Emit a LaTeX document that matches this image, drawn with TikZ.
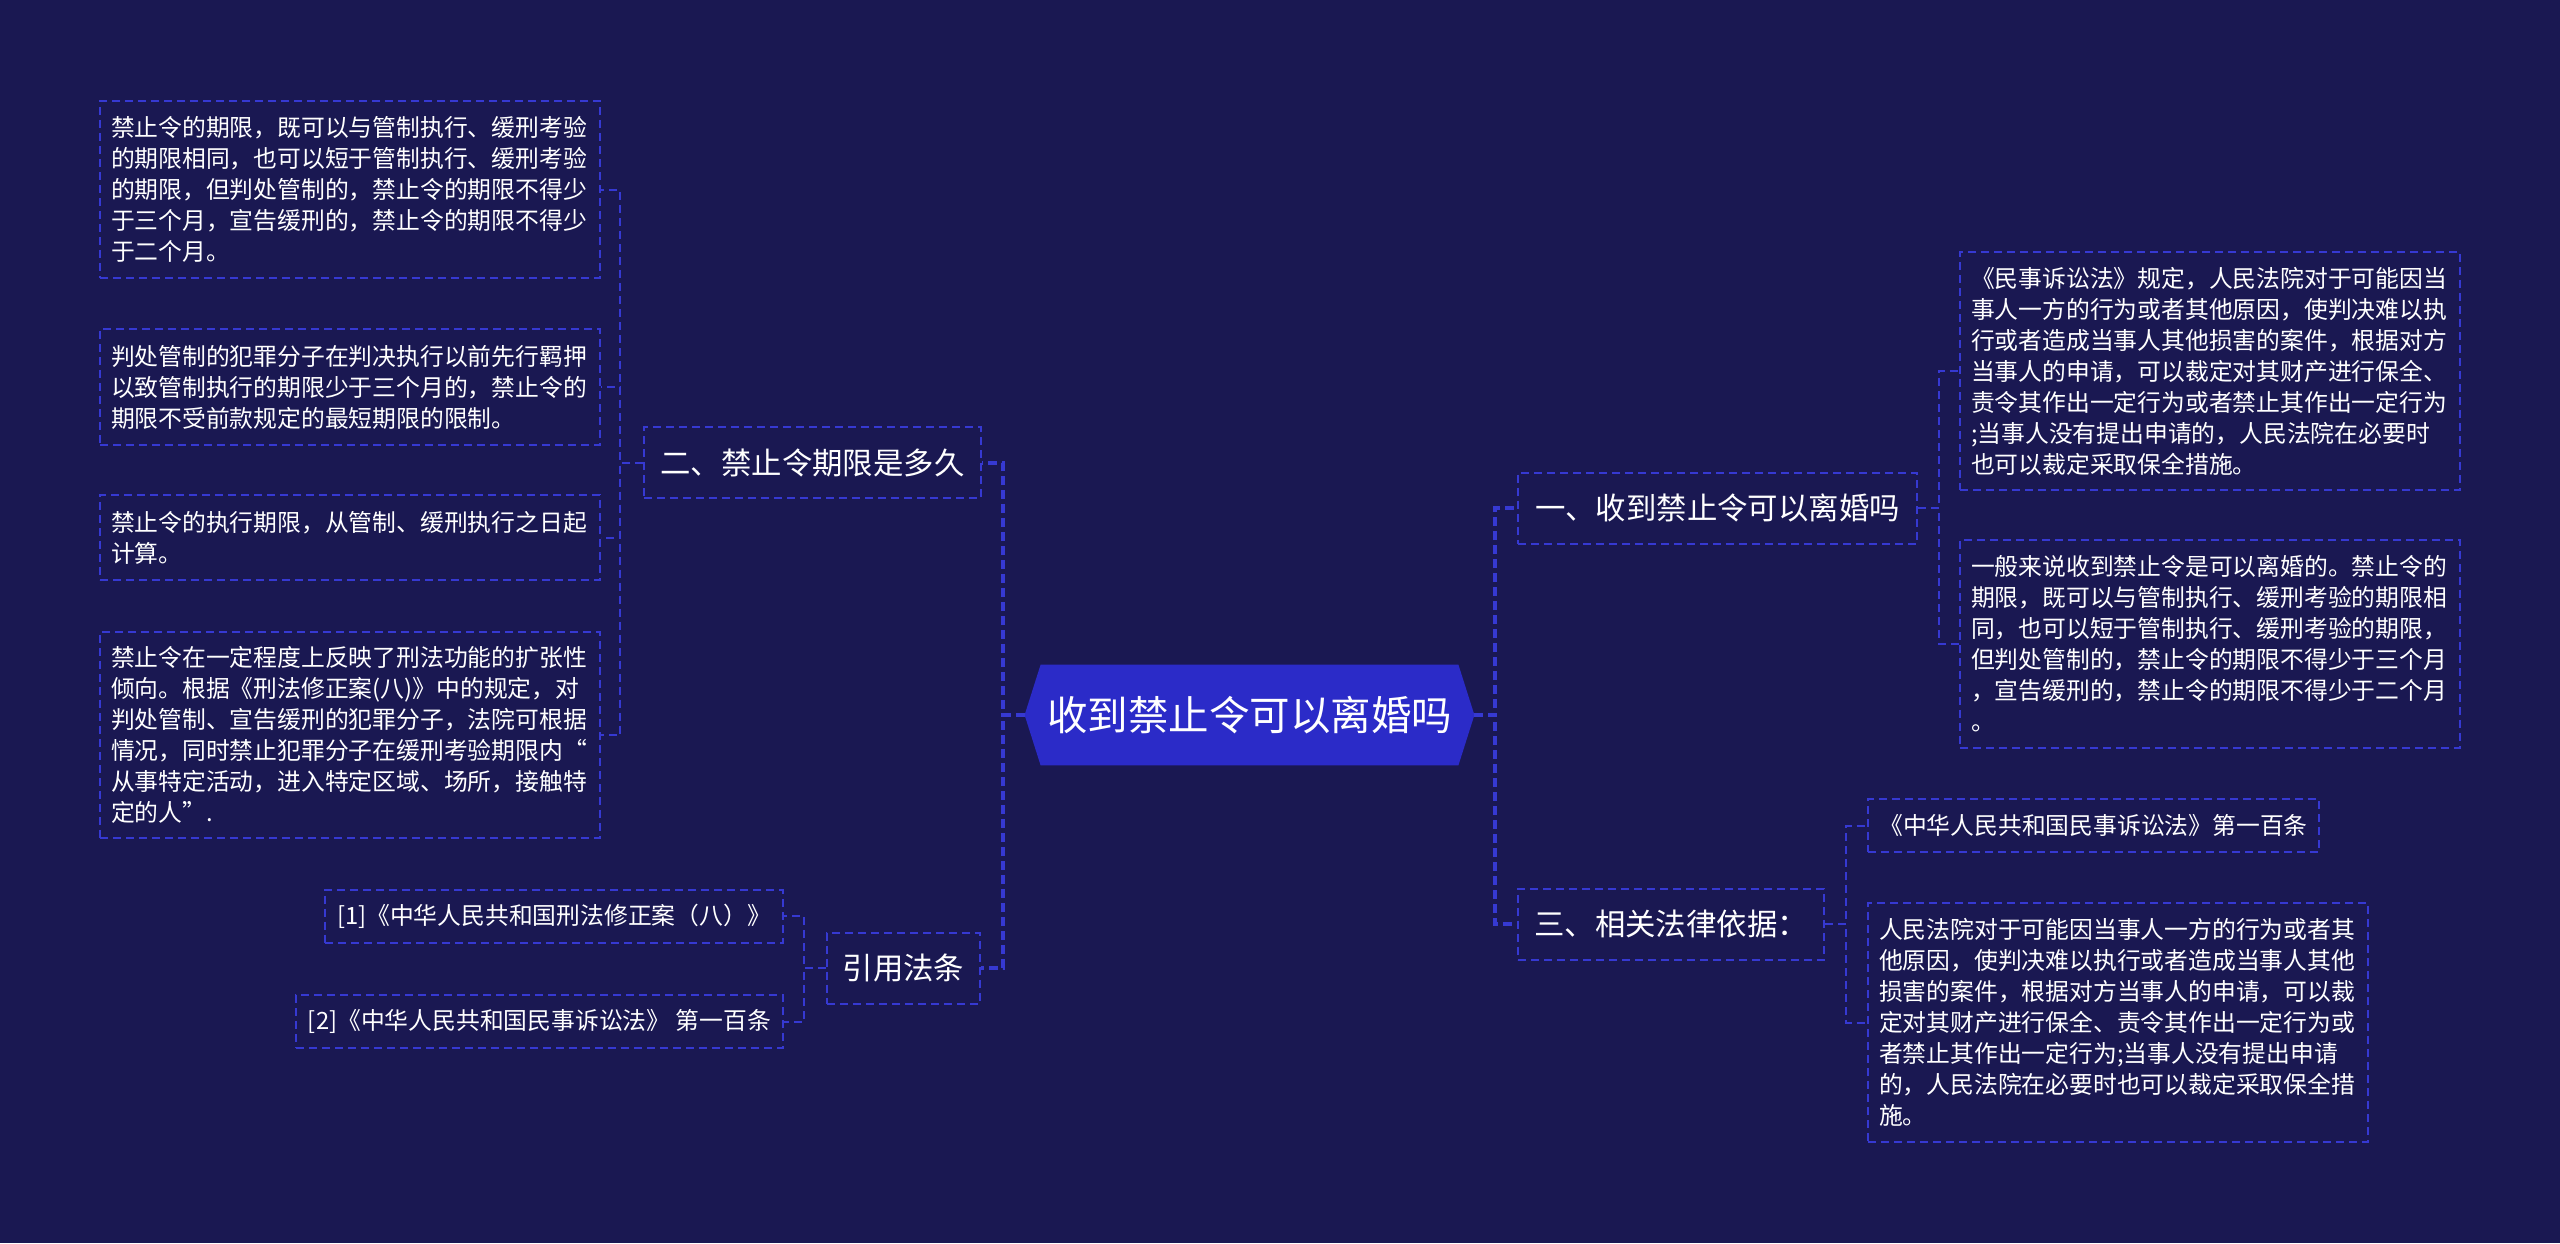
\documentclass[tikz,border=0pt]{standalone}
\usepackage{fontspec}
\newfontfamily\cjk{Noto Sans CJK SC}
\definecolor{bgc}{HTML}{1A1852}
\definecolor{hexc}{HTML}{2B2BC8}
\definecolor{linec}{HTML}{3639D2}
\pgfdeclarelayer{bglayer}
\pgfsetlayers{bglayer,main}
\tikzset{
  conn/.style={draw=linec, line width=1pt, dash pattern=on 4pt off 2.5pt},
  mainconn/.style={conn, line width=2pt, dash pattern=on 4.5pt off 2.5pt},
  box/.style={draw=linec, line width=1pt, dash pattern=on 4pt off 2.5pt, text=white, inner sep=0pt},
  leaf/.style={box, font=\cjk\fontsize{11.9pt}{15.5pt}\selectfont, text width=239pt, inner xsep=5.5pt, align=left},
  leafone/.style={box, font=\cjk\fontsize{11.9pt}{15.5pt}\selectfont, minimum height=26.5pt},
  topic/.style={box, font=\cjk\fontsize{15.2pt}{18pt}\selectfont, minimum height=35.5pt},
  centre/.style={font=\cjk\fontsize{20.25pt}{24pt}\selectfont, text=white, minimum width=224.5pt, minimum height=50pt, inner sep=0pt},
}
\begin{document}
\begin{tikzpicture}[x=0.5pt,y=-0.5pt]
\useasboundingbox (0,0) rectangle (2560,1243);
\begin{pgfonlayer}{bglayer}
\fill[bgc] (0,0) rectangle (2560,1243);
\end{pgfonlayer}

% centre
\node[centre] (c) at (1249.5,715) {收到禁止令可以离婚吗};
\begin{pgfonlayer}{bglayer}
\fill[hexc] (c.west) -- ([xshift=8pt]c.north west) -- ([xshift=-8pt]c.north east) -- (c.east)
  -- ([xshift=-8pt]c.south east) -- ([xshift=8pt]c.south west) -- cycle;
\end{pgfonlayer}

% level 1
\node[topic, minimum width=168.5pt, anchor=east] (n2) at (982,462.5) {二、禁止令期限是多久};
\node[topic, minimum width=76.5pt, anchor=east] (ny) at (981,968) {引用法条};
\node[topic, minimum width=199.5pt, anchor=west] (n1) at (1517,508) {一、收到禁止令可以离婚吗};
\node[topic, minimum width=153pt, anchor=west] (n3) at (1517,924) {三、相关法律依据：};

% left leaves
\node[leaf, minimum height=88.5pt, anchor=east] (l1) at (601,189.5) {禁止令的期限，既可以与管制执行、缓刑考验\\的期限相同，也可以短于管制执行、缓刑考验\\的期限，但判处管制的，禁止令的期限不得少\\于三个月，宣告缓刑的，禁止令的期限不得少\\于二个月。};
\node[leaf, minimum height=58pt, anchor=east] (l2) at (601,387) {判处管制的犯罪分子在判决执行以前先行羁押\\以致管制执行的期限少于三个月的，禁止令的\\期限不受前款规定的最短期限的限制。};
\node[leaf, minimum height=42.5pt, anchor=east] (l3) at (601,537.5) {禁止令的执行期限，从管制、缓刑执行之日起\\计算。};
\node[leaf, minimum height=103pt, anchor=east] (l4) at (601,735) {禁止令在一定程度上反映了刑法功能的扩张性\\倾向。根据《刑法修正案(八)》中的规定，对\\判处管制、宣告缓刑的犯罪分子，法院可根据\\情况，同时禁止犯罪分子在缓刑考验期限内“\\从事特定活动，进入特定区域、场所，接触特\\定的人”.};

\node[leafone, minimum width=229pt, anchor=east] (c1) at (784,916) {[1]《中华人民共和国刑法修正案（八）》};
\node[leafone, minimum width=243.5pt, anchor=east] (c2) at (784,1021.5) {[2]《中华人民共和国民事诉讼法》 第一百条};

% right leaves
\node[leaf, minimum height=119pt, anchor=west] (r1) at (1959,371) {《民事诉讼法》规定，人民法院对于可能因当\\事人一方的行为或者其他原因，使判决难以执\\行或者造成当事人其他损害的案件，根据对方\\当事人的申请，可以裁定对其财产进行保全、\\责令其作出一定行为或者禁止其作出一定行为\\;当事人没有提出申请的，人民法院在必要时\\也可以裁定采取保全措施。};
\node[leaf, minimum height=104pt, anchor=west] (r2) at (1959,644) {一般来说收到禁止令是可以离婚的。禁止令的\\期限，既可以与管制执行、缓刑考验的期限相\\同，也可以短于管制执行、缓刑考验的期限，\\但判处管制的，禁止令的期限不得少于三个月\\，宣告缓刑的，禁止令的期限不得少于二个月\\。};
\node[leafone, minimum width=225.5pt, anchor=west] (r3a) at (1867,825.5) {《中华人民共和国民事诉讼法》第一百条};
\node[leaf, minimum height=119.5pt, anchor=west] (r3b) at (1867,1022.5) {人民法院对于可能因当事人一方的行为或者其\\他原因，使判决难以执行或者造成当事人其他\\损害的案件，根据对方当事人的申请，可以裁\\定对其财产进行保全、责令其作出一定行为或\\者禁止其作出一定行为;当事人没有提出申请\\的，人民法院在必要时也可以裁定采取保全措\\施。};

% connectors
\draw[mainconn] (c.west) -- ++(-22,0) |- (n2.east);
\draw[mainconn] (c.west) -- ++(-22,0) |- (ny.east);
\draw[mainconn] (c.east) -- ++(21,0) |- (n1.west);
\draw[mainconn] (c.east) -- ++(21,0) |- (n3.west);

\foreach \t in {l1,l2,l3,l4}{\draw[conn] (n2.west) -- ++(-23,0) |- (\t.east);}
\foreach \t in {c1,c2}{\draw[conn] (ny.west) -- ++(-22,0) |- (\t.east);}
\foreach \t in {r1,r2}{\draw[conn] (n1.east) -- ++(21,0) |- (\t.west);}
\foreach \t in {r3a,r3b}{\draw[conn] (n3.east) -- ++(21,0) |- (\t.west);}
\end{tikzpicture}
\end{document}
